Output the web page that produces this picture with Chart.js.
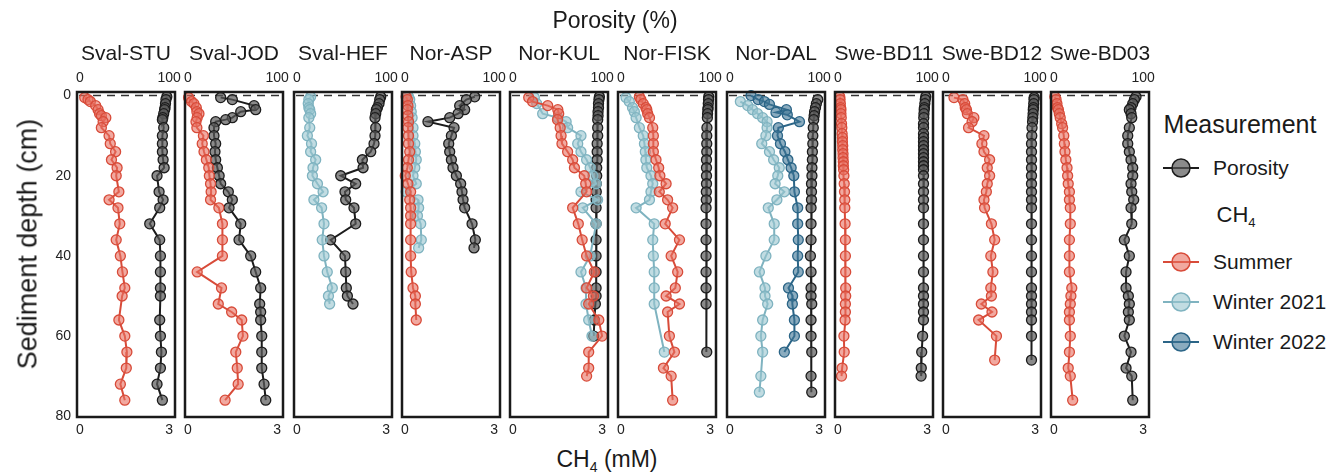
<!DOCTYPE html>
<html><head><meta charset="utf-8">
<script src="https://cdn.jsdelivr.net/npm/chart.js@4.4.1/dist/chart.umd.min.js"></script>
<style>
body{margin:0;background:#fff;font-family:"Liberation Sans",Arial,Helvetica,sans-serif;color:#1a1a1a;}
#wrap{position:relative;width:1330px;height:474px;overflow:hidden;background:#fff;}
#wrap canvas{position:absolute;}
.t{position:absolute;white-space:nowrap;line-height:1;}
.ctr{transform:translate(-50%,-50%);}
.leg{position:absolute;left:1163px;display:flex;align-items:center;font-size:21px;white-space:nowrap;}
.leg svg{margin-right:14px;}
</style></head><body><div id="wrap"></div>
<script>
const FONT = '"Liberation Sans", Arial, Helvetica, sans-serif';
const panelNames = ['Sval-STU','Sval-JOD','Sval-HEF','Nor-ASP','Nor-KUL','Nor-FISK','Nor-DAL','Swe-BD11','Swe-BD12','Swe-BD03'];
const depthTicks = [0,20,40,60,80];
const ch4Ticks = [0,3];
const porosityTicks = [0,100];
const seriesLabels = {summer:'Summer', winter2021:'Winter 2021', winter2022:'Winter 2022', porosity:'Porosity'};

// [depth (cm), value] pairs; CH4 in mM, porosity in %
const STU_summer = [[0.5,0.16],[1,0.27],[1.5,0.35],[2.5,0.53],[3.5,0.61],[4.5,0.66],[5,0.72],[5.5,0.87],[6.5,0.78],[8,0.72],[10,0.98],[12,1.02],[14,1.2],[16,1.06],[18,1.25],[20,1.22],[24,1.31],[26,0.98],[28,1.28],[32,1.34],[36,1.22],[40,1.36],[44,1.43],[48,1.51],[50,1.42],[56,1.31],[60,1.51],[64,1.58],[68,1.56],[72,1.36],[76,1.51]];
const STU_porosity = [[0.3,97.5],[1,96.5],[2,96],[3,95.5],[3.5,95],[4.5,94],[5.5,93],[6,92.5],[8,94],[10,92.5],[12,92.5],[14,92.5],[16,93.3],[18,94.5],[20,86.5],[24,88.8],[26,93.3],[28,89.5],[32,78.3],[36,89.5],[40,90.3],[44,90.3],[48,90.3],[50,90.3],[56,89.5],[60,90.3],[64,91.4],[68,90.3],[72,86.5],[76,92.5]];

const JOD_summer = [[0.5,0.02],[1.5,0.12],[2,0.2],[3,0.28],[4,0.3],[4.5,0.37],[5.5,0.31],[6.5,0.27],[8,0.3],[10,0.52],[12,0.48],[14,0.54],[16,0.62],[18,0.7],[20,0.72],[22,0.76],[24,0.78],[26,0.76],[28,1.04],[32,1.16],[36,1.16],[40,1.16],[44,0.31],[48,1.13],[52,1.02],[54,1.47],[56,1.81],[60,1.85],[64,1.61],[68,1.66],[72,1.69],[76,1.25]];
const JOD_porosity = [[0.5,36.7],[1,49.8],[2.5,74.2],[3.5,76],[4,59.2],[5.5,49.8],[6,42.3],[6.5,31.1],[8,29.2],[10,29.2],[12,31.1],[14,30.3],[16,31.1],[18,33],[20,35],[22,36.7],[24,45.3],[26,49.8],[28,46.1],[32,59.2],[36,57.3],[40,70.4],[44,76],[48,81.6],[52,80.5],[54,81.6],[56,81.6],[60,82.8],[64,82.8],[68,82.8],[72,85.4],[76,87.3]];

const HEF_winter2021 = [[0.3,0.46],[1,0.4],[2,0.38],[3,0.4],[3.5,0.43],[4.5,0.46],[5.5,0.4],[8,0.43],[10,0.35],[12,0.49],[14,0.46],[16,0.63],[18,0.54],[20,0.52],[22,0.69],[24,0.88],[26,0.57],[28,0.83],[32,0.91],[36,0.85],[40,0.91],[44,1.02],[48,1.19],[50,1.06],[52,1.1]];
const HEF_porosity = [[0.3,94],[1,92.9],[2,92.1],[3,90.3],[3.5,89.1],[4.5,88.4],[5.5,87.6],[8,88.4],[10,87.6],[12,86.5],[14,82.8],[16,73.4],[18,74.2],[20,49.1],[22,65.9],[24,53.9],[26,54.7],[28,64],[32,65.9],[36,37.8],[40,53.9],[44,54.7],[48,55.4],[50,56.6],[52,62.9]];

const ASP_summer = [[0.3,0.04],[1,0.08],[2.5,0.1],[3.5,0.08],[5,0.1],[6.5,0.12],[8,0.1],[10,0.12],[12,0.12],[14,0.16],[16,0.12],[18,0.08],[20,0.01],[22,0.1],[24,0.19],[26,0.16],[28,0.19],[30,0.19],[32,0.19],[36,0.19],[40,0.19],[44,0.21],[48,0.27],[50,0.35],[52,0.35],[56,0.38]];
const ASP_winter2021 = [[0.3,0.12],[1,0.16],[2.5,0.19],[4,0.21],[5.5,0.24],[8,0.27],[10,0.27],[12,0.33],[14,0.35],[16,0.38],[18,0.33],[20,0.27],[22,0.38],[24,0.04],[26,0.44],[28,0.46],[30,0.42],[32,0.53],[36,0.55],[38,0.46]];
const ASP_porosity = [[0.3,78.3],[1,68.9],[2.5,61.4],[3.5,67],[4.5,59.6],[5.5,50.2],[6.5,25.8],[8,55.1],[10,52.1],[12,49.1],[14,50.2],[16,52.1],[18,53.9],[20,57.7],[22,62.5],[24,64],[26,65.2],[28,67],[32,75.3],[36,79],[38,77.5]];

const KUL_summer = [[0.5,0.53],[1.5,0.66],[2.5,1.17],[3.5,1.51],[4.5,1.54],[6,1.5],[8,1.59],[10,1.62],[12,1.65],[14,1.84],[16,2.01],[18,2.07],[20,2.4],[22,2.45],[24,2.48],[28,2.01],[32,2.2],[36,2.33],[40,2.48],[44,2.74],[48,2.48],[50,2.71],[52,2.55],[56,2.89],[60,3.0],[64,2.55],[68,2.55],[70,2.48]];
const KUL_winter2021 = [[0.5,0.72],[2,0.8],[4.5,1.0],[5.5,1.51],[6.5,1.79],[8,1.84],[10,2.29],[12,2.18],[14,2.29],[16,2.48],[18,2.6],[20,2.69],[22,2.8],[24,2.29],[26,2.85],[28,2.35],[32,2.8],[40,2.6],[44,2.29],[48,2.46],[52,2.46],[56,2.55],[60,2.66]];
const KUL_porosity = [[0.3,97],[1,96.5],[2,96],[3,96],[4,95.5],[5,95.5],[6,95.1],[8,95.1],[10,95.1],[12,94.5],[14,94.5],[16,94.5],[18,94],[20,94],[22,93.5],[24,93.5],[26,93.3],[28,93.3],[32,93.3],[36,93.3],[40,93.3],[44,93.3],[48,93.3],[50,93.3],[52,92.5],[56,91.4],[60,90.6]];

const FISK_summer = [[0.3,0.62],[1,0.67],[2,0.75],[3,0.84],[3.5,0.87],[4.5,0.9],[5.5,0.96],[8,1.07],[10,1.09],[12,1.09],[14,1.09],[16,1.18],[18,1.27],[20,1.31],[22,1.52],[24,1.29],[26,1.57],[28,1.74],[32,1.49],[36,1.97],[40,1.69],[44,1.91],[48,1.83],[50,1.52],[52,1.97],[54,1.57],[60,1.63],[64,1.8],[68,1.43],[70,1.69],[76,1.74]];
const FISK_winter2021 = [[0.5,0.17],[1.5,0.28],[3,0.39],[4,0.45],[5.5,0.51],[8,0.62],[10,0.75],[12,0.79],[14,0.82],[16,0.84],[18,0.87],[20,1.01],[22,1.07],[24,1.01],[26,0.96],[28,0.51],[32,1.12],[36,1.07],[40,1.09],[44,1.12],[48,1.12],[52,1.12],[64,1.46]];
const FISK_porosity = [[0.3,98.5],[1,98.3],[2,98],[3,97.8],[3.5,97.5],[4.5,97.2],[5.5,97],[8,96.5],[10,96.3],[12,96.3],[14,96.3],[16,96],[18,96],[20,96],[22,96],[24,95.8],[26,95.8],[28,95.5],[32,95.5],[36,95.5],[40,95.5],[44,95.5],[48,95.5],[52,95.5],[64,96.3]];

const DAL_winter2021 = [[1.5,0.35],[2.5,0.6],[3.5,0.76],[4.5,0.93],[5.5,1.1],[6.5,1.25],[8,1.25],[10,1.21],[12,1.07],[14,1.33],[16,1.47],[18,1.66],[20,1.61],[22,1.52],[24,1.83],[26,1.58],[28,1.29],[32,1.49],[36,1.49],[40,1.21],[44,0.99],[48,1.18],[50,1.18],[52,1.27],[56,1.1],[60,1.04],[64,1.1],[70,1.04],[74,0.99]];
const DAL_winter2022 = [[0,0.71],[1,0.95],[1.5,1.16],[2.2,1.33],[3.5,1.9],[4.2,1.55],[4.8,1.93],[6.5,2.34],[8,1.63],[10,1.6],[12,1.7],[14,1.85],[16,1.95],[18,2.06],[20,2.15],[24,2.17],[28,2.28],[32,2.28],[36,2.3],[40,2.28],[44,2.3],[48,1.97],[50,2.11],[52,2.1],[56,2.17],[60,2.17],[64,1.83]];
const DAL_porosity = [[1,98.5],[2,97],[3,96],[4,95],[5,94.5],[6,94],[8,93.5],[10,93],[12,93],[14,92.5],[16,92.5],[18,92],[20,92],[22,91.5],[24,91.5],[26,91.5],[28,91],[32,91],[36,91],[40,90.3],[44,91],[48,91],[50,91],[52,91.8],[56,91],[60,91],[64,91.8],[70,91],[74,91.8]];

const BD11_summer = [[0.3,0.06],[1,0.07],[2,0.08],[3,0.09],[3.5,0.1],[4.5,0.1],[5.5,0.11],[7,0.12],[8,0.13],[9.5,0.14],[10.5,0.15],[11.5,0.15],[12.5,0.16],[13.5,0.16],[14.5,0.17],[15.5,0.17],[16.5,0.18],[17.5,0.18],[18.5,0.19],[20,0.2],[22,0.21],[24,0.22],[26,0.23],[28,0.23],[32,0.24],[36,0.25],[40,0.25],[44,0.26],[48,0.26],[50,0.26],[52,0.25],[54,0.25],[56,0.24],[60,0.2],[64,0.21],[68,0.14],[70,0.12]];
const BD11_porosity = [[0.3,98.5],[1,98],[2,97.5],[3,97],[3.5,96.8],[4.5,96.5],[5.5,96.3],[7,96],[8,96],[9.5,96],[10.5,96],[11.5,96],[12.5,96],[13.5,96],[14.5,96],[15.5,96],[16.5,96],[17.5,96],[18.5,96],[20,96],[22,96],[24,96],[26,96],[28,96],[32,96],[36,96],[40,96],[44,96],[48,96],[50,96],[52,96],[54,96],[56,96],[60,95],[64,94],[68,93.5],[70,93.3]];

const BD12_summer = [[0.5,0.27],[1,0.57],[2,0.63],[3,0.65],[3.5,0.69],[4.5,0.72],[5.5,0.94],[6.5,0.88],[8,0.76],[10,1.28],[12,1.21],[14,1.28],[16,1.47],[18,1.39],[20,1.47],[22,1.39],[24,1.36],[26,1.28],[28,1.3],[32,1.53],[36,1.64],[40,1.51],[44,1.58],[48,1.51],[50,1.53],[52,1.19],[54,1.55],[56,1.1],[60,1.7],[66,1.64]];
const BD12_porosity = [[0.5,99],[1,98.8],[2,98.5],[3,98.2],[3.5,98],[4.5,97.8],[5.5,97.5],[6.5,97.2],[8,96.6],[10,96.3],[12,96],[14,96],[16,96],[18,96],[20,96],[22,96],[24,96],[26,96],[28,96],[32,96],[36,96],[40,96],[44,96],[48,96],[50,96],[52,96],[54,96],[56,96],[60,96],[66,96]];

const BD03_summer = [[0.3,0.03],[1,0.07],[2,0.1],[3,0.12],[3.5,0.15],[4.5,0.18],[5.5,0.21],[7,0.26],[8,0.29],[10,0.33],[12,0.35],[14,0.37],[16,0.4],[18,0.44],[20,0.46],[22,0.48],[24,0.52],[26,0.52],[28,0.55],[32,0.55],[36,0.52],[40,0.52],[44,0.52],[48,0.6],[50,0.57],[52,0.55],[54,0.52],[56,0.52],[60,0.55],[64,0.52],[68,0.48],[70,0.55],[76,0.63]];
const BD03_porosity = [[0.3,92.1],[1,90.3],[2,88.4],[3,86.5],[3.5,84.6],[4.5,86.5],[5.5,87.3],[8,84.6],[10,82.8],[12,82.8],[14,84.6],[16,86.5],[18,88.4],[20,88.4],[22,86.5],[24,87.3],[26,89.5],[28,86.5],[32,87.3],[36,79],[40,84.6],[44,80.9],[48,80.9],[50,83.5],[52,84.6],[54,83.5],[56,84.6],[60,79],[64,86.5],[68,80.9],[70,87.3],[76,88.4]];

const panels = [
  {summer:STU_summer, porosity:STU_porosity},
  {summer:JOD_summer, porosity:JOD_porosity},
  {winter2021:HEF_winter2021, porosity:HEF_porosity},
  {summer:ASP_summer, winter2021:ASP_winter2021, porosity:ASP_porosity},
  {summer:KUL_summer, winter2021:KUL_winter2021, porosity:KUL_porosity},
  {summer:FISK_summer, winter2021:FISK_winter2021, porosity:FISK_porosity},
  {winter2021:DAL_winter2021, winter2022:DAL_winter2022, porosity:DAL_porosity},
  {summer:BD11_summer, porosity:BD11_porosity},
  {summer:BD12_summer, porosity:BD12_porosity},
  {summer:BD03_summer, porosity:BD03_porosity}
];

const STY = {
  summer:{line:'#d84b39', fill:'rgba(232,112,96,0.6)'},
  winter2021:{line:'#7fb3c0', fill:'rgba(152,197,207,0.6)'},
  winter2022:{line:'#2b6587', fill:'rgba(62,116,148,0.6)'},
  porosity:{line:'#1c1c1c', fill:'rgba(90,90,90,0.7)'}
};

// layout
const L0 = 77, PITCH = 108.27, PW = 98, CTOP = 60, CH = 385, PT = 32, PB = 28, PR = 14;
const wrap = document.getElementById('wrap');

function addText(html, x, y, size, extra){
  const d = document.createElement('div');
  d.className = 't ctr';
  d.style.left = x + 'px'; d.style.top = y + 'px'; d.style.fontSize = size + 'px';
  if (extra) Object.assign(d.style, extra);
  d.innerHTML = html;
  wrap.appendChild(d);
  return d;
}

const framePlugin = {
  id:'frame',
  beforeDatasetsDraw(ch){
    const {ctx, chartArea:a} = ch;
    const y0 = ch.scales.y.getPixelForValue(0);
    ctx.save();
    ctx.setLineDash([8,6]);
    ctx.strokeStyle = '#333'; ctx.lineWidth = 1.5;
    ctx.beginPath(); ctx.moveTo(a.left + 2, y0); ctx.lineTo(a.right, y0); ctx.stroke();
    ctx.restore();
  },
  afterDraw(ch){
    const {ctx, chartArea:a} = ch;
    ctx.save();
    ctx.strokeStyle = '#1a1a1a'; ctx.lineWidth = 2.5;
    ctx.strokeRect(a.left, a.top, a.right - a.left, a.bottom - a.top);
    ctx.restore();
  }
};

const tickFont = {family: FONT, size: 14};

panels.forEach((p, k) => {
  const left = Math.round(L0 + PITCH * k);
  const padL = k === 0 ? 44 : 10;
  const c = document.createElement('canvas');
  c.width = padL + PW + PR; c.height = CH;
  c.style.left = (left - padL) + 'px'; c.style.top = CTOP + 'px';
  c.style.width = c.width + 'px'; c.style.height = CH + 'px';
  wrap.appendChild(c);

  addText(panelNames[k], left + PW / 2, 52, 21);

  const ds = [];
  ['summer','winter2021','winter2022','porosity'].forEach(key => {
    if (!p[key]) return;
    ds.push({
      label: seriesLabels[key],
      data: p[key].map(([d, v]) => ({x: v, y: d})),
      xAxisID: key === 'porosity' ? 'x2' : 'x', yAxisID: 'y',
      showLine: true, borderColor: STY[key].line, backgroundColor: STY[key].fill,
      pointBackgroundColor: STY[key].fill, pointBorderColor: STY[key].line,
      borderWidth: 2, pointRadius: 5, pointBorderWidth: 1.3, clip: false, tension: 0
    });
  });

  const mkTicks = arr => s => { s.ticks = arr.map(v => ({value: v})); };
  new Chart(c, {
    type: 'scatter',
    data: {datasets: ds},
    plugins: [framePlugin],
    options: {
      responsive: false, animation: false, devicePixelRatio: 1,
      layout: {padding: 0},
      plugins: {legend: {display: false}, tooltip: {enabled: false}},
      scales: {
        x: {type:'linear', position:'bottom', min:-0.1, max:3.2, afterBuildTicks: mkTicks(ch4Ticks),
            ticks:{font:tickFont, color:'#222', padding:5, maxRotation:0, autoSkip:false},
            grid:{display:false, drawTicks:false}, border:{display:false},
            afterFit: s => { s.height = PB; }},
        x2: {type:'linear', position:'top', min:-100/30, max:320/3, afterBuildTicks: mkTicks(porosityTicks),
            ticks:{font:tickFont, color:'#222', padding:5, maxRotation:0, autoSkip:false},
            grid:{display:false, drawTicks:false}, border:{display:false},
            afterFit: s => { s.height = PT; }},
        y: {type:'linear', position:'left', reverse:true, min:-0.9, max:80.2, afterBuildTicks: mkTicks(depthTicks),
            ticks:{display: k === 0, font:tickFont, color:'#222', padding:6},
            grid:{display:false, drawTicks:false}, border:{display:false},
            afterFit: s => { s.width = padL; }},
        yr: {type:'linear', position:'right', display:true,
            ticks:{display:false}, grid:{display:false, drawTicks:false}, border:{display:false},
            afterFit: s => { s.width = PR; }}
      }
    }
  });
});

// shared axis titles
addText('Porosity (%)', 615, 20, 23);
addText('CH<sub style="font-size:14px;vertical-align:-5px">4</sub> (mM)', 607, 461, 23);
addText('Sediment depth (cm)', 28, 244, 27, {transform:'translate(-50%,-50%) rotate(-90deg)'});

// legend
addText('Measurement', 1240, 124, 25);
function legItem(key, y){
  const d = document.createElement('div');
  d.className = 'leg'; d.style.top = (y - 12) + 'px'; d.style.height = '24px';
  d.innerHTML = '<svg width="36" height="22" viewBox="0 0 36 22"><line x1="0" y1="11" x2="36" y2="11" stroke="' + STY[key].line + '" stroke-width="2"/><circle cx="18" cy="11" r="9" fill="' + STY[key].fill + '" stroke="' + STY[key].line + '" stroke-width="1.5"/></svg><span>' + seriesLabels[key] + '</span>';
  wrap.appendChild(d);
}
legItem('porosity', 168);
addText('CH<sub style="font-size:13px;vertical-align:-5px">4</sub>', 1236, 216, 22);
legItem('summer', 262);
legItem('winter2021', 302);
legItem('winter2022', 342);
</script>
</body></html>
